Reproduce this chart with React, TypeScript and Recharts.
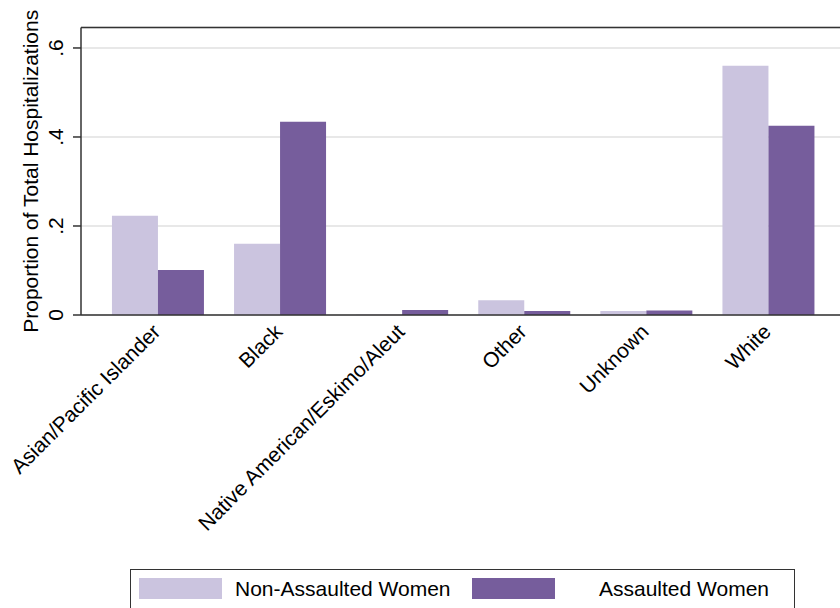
import React from 'react';
import { BarChart, Bar, XAxis, YAxis, CartesianGrid, ReferenceLine } from 'recharts';

const categories = [
  'Asian/Pacific Islander',
  'Black',
  'Native American/Eskimo/Aleut',
  'Other',
  'Unknown',
  'White',
];
const nonAssaulted = [0.223, 0.16, 0.001, 0.033, 0.009, 0.56];
const assaulted = [0.101, 0.434, 0.011, 0.009, 0.01, 0.425];
const yTicks = [0, 0.2, 0.4, 0.6];
const yTickLabels = ['0', '.2', '.4', '.6'];
const yMax = 0.646;

const LIGHT = '#cbc4df';
const DARK = '#765d9c';
const FONT = '"Liberation Sans", Arial, Helvetica, sans-serif';

const data = categories.map((c, i) => ({ cat: c, non: nonAssaulted[i], asl: assaulted[i] }));

function YTick(props: any) {
  const { x, y, payload } = props;
  const idx = yTicks.indexOf(payload.value);
  const lx = x - 10;
  return (
    <text x={lx} y={y} transform={`rotate(-90, ${lx}, ${y})`} textAnchor="middle" fontSize={21} fill="#000" fontFamily={FONT}>
      {idx >= 0 ? yTickLabels[idx] : String(payload.value)}
    </text>
  );
}

function XTick(props: any) {
  const { x, y, payload } = props;
  const tx = x + 4;
  const ty = y + 18;
  return (
    <text x={tx} y={ty} transform={`rotate(-45, ${tx}, ${ty})`} textAnchor="end" fontSize={21} fill="#000" fontFamily={FONT}>
      {payload.value}
    </text>
  );
}

function YTitle(props: any) {
  const vb = props.viewBox || {};
  const cy = vb.y + vb.height / 2;
  return (
    <text x={38} y={cy} transform={`rotate(-90, 38, ${cy})`} textAnchor="middle" fontSize={21} fill="#000" fontFamily={FONT}>
      Proportion of Total Hospitalizations
    </text>
  );
}

const swatch = (color: string, left: number): React.CSSProperties => ({
  position: 'absolute', left, top: 8, width: 83, height: 21, background: color,
});
const legendText = (left: number): React.CSSProperties => ({
  position: 'absolute', left, top: 7, fontSize: 21, lineHeight: '24px', color: '#000', fontFamily: FONT, whiteSpace: 'nowrap',
});

export default function App() {
  return (
    <div style={{ position: 'absolute', left: 0, top: 0, width: 840, height: 608, overflow: 'hidden', background: '#fff' }}>
      <BarChart
        width={840}
        height={608}
        data={data}
        margin={{ top: 27.5, right: 0, bottom: 0, left: 0 }}
        barCategoryGap={15.35}
        barGap={0}
      >
        <CartesianGrid horizontal vertical={false} stroke="#e0e0e0" strokeWidth={1.5} />
        <XAxis
          dataKey="cat"
          interval={0}
          height={293}
          padding={{ left: 15.6, right: 10.8 }}
          tickLine={false}
          tickSize={0}
          tickMargin={0}
          axisLine={{ stroke: '#333', strokeWidth: 1.5 }}
          tick={<XTick />}
        />
        <YAxis
          width={81}
          domain={[0, yMax]}
          ticks={yTicks}
          tickSize={8}
          tickMargin={0}
          tickLine={{ stroke: '#333', strokeWidth: 1.5 }}
          axisLine={{ stroke: '#333', strokeWidth: 1.5 }}
          tick={<YTick />}
          label={<YTitle />}
        />
        <ReferenceLine y={yMax} stroke="#333" strokeWidth={1.5} />
        <Bar dataKey="non" name="Non-Assaulted Women" fill={LIGHT} isAnimationActive={false} />
        <Bar dataKey="asl" name="Assaulted Women" fill={DARK} isAnimationActive={false} />
      </BarChart>
      <div style={{ position: 'absolute', left: 130, top: 569, width: 665, height: 50, border: '1px solid #333', boxSizing: 'border-box', background: '#fff' }}>
        <div style={swatch(LIGHT, 8)} />
        <div style={legendText(104)}>Non-Assaulted Women</div>
        <div style={swatch(DARK, 341)} />
        <div style={legendText(468)}>Assaulted Women</div>
      </div>
    </div>
  );
}
